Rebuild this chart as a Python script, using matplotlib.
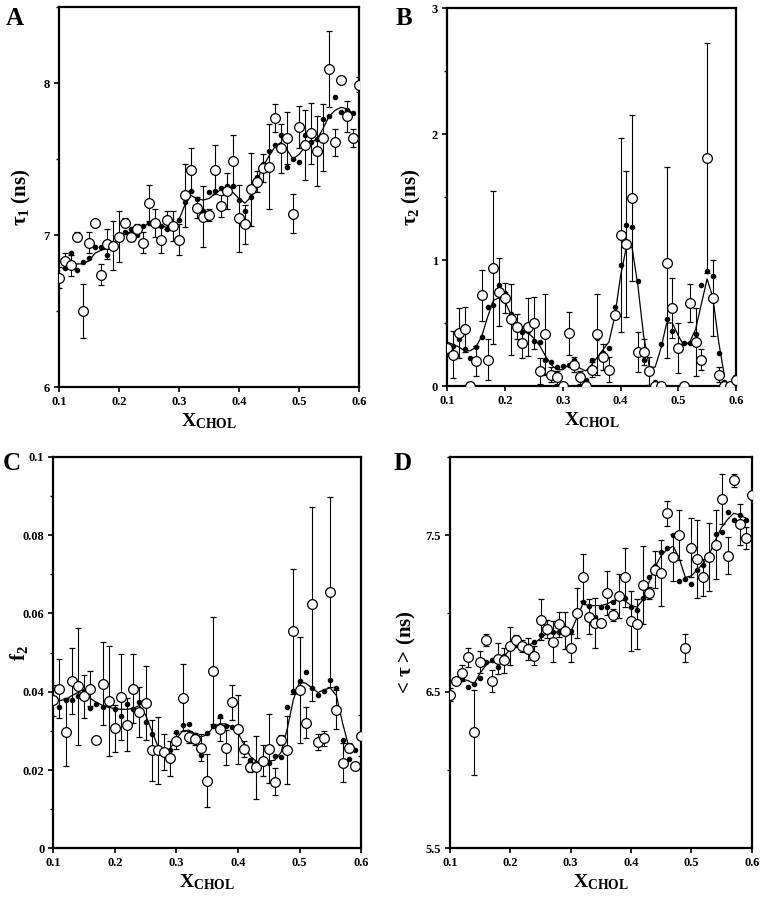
import numpy as np
import matplotlib
matplotlib.use('Agg')
import matplotlib.pyplot as plt
from matplotlib.ticker import MultipleLocator

plt.rcParams['font.family'] = 'Liberation Serif'
plt.rcParams['font.weight'] = 'bold'
plt.rcParams['mathtext.fontset'] = 'custom'
plt.rcParams['mathtext.rm'] = 'Liberation Serif:bold'
plt.rcParams['mathtext.bf'] = 'Liberation Serif:bold'
plt.rcParams['mathtext.it'] = 'Liberation Serif:bold'

# x_chol from 0.10 to 0.60
x_chol = [round(0.10 + 0.01 * i, 2) for i in range(51)]
nan = float('nan')

# panel A: tau1 (ns)
tau1_exp = [6.72, 6.83, 6.80, 6.99, 6.50, 6.95, 7.08, 6.74, 6.94, 6.93,
            6.99, 7.08, 6.99, 7.04, 6.95, 7.21, 7.08, 6.97, 7.10, 7.06,
            6.97, 7.26, 7.43, 7.18, 7.12, 7.13, 7.43, 7.19, 7.29, 7.49,
            7.11, 7.07, 7.30, 7.35, 7.44, 7.45, 7.77, 7.57, 7.64, 7.14,
            7.71, 7.59, 7.67, 7.55, 7.64, 8.09, 7.61, 8.02, 7.78, 7.64, 7.99]
tau1_err = [0.07, 0.05, 0.07, 0.03, 0.18, 0.07, 0.02, 0.07, 0.10, 0.16,
            0.17, 0.03, 0.03, 0.03, 0.07, 0.12, 0.09, 0.09, 0.06, 0.10,
            0.10, 0.21, 0.14, 0.07, 0.20, 0.04, 0.16, 0.07, 0.12, 0.17,
            0.22, 0.13, 0.24, 0.07, 0.09, 0.28, 0.09, 0.16, 0.17, 0.13,
            0.14, 0.23, 0.20, 0.23, 0.22, 0.25, 0.09, 0.01, 0.10, 0.06, 0.05]
tau1_sim = [nan, 6.78, 6.88, 6.77, 6.82, 6.85, 6.92, 6.92, 6.87, 6.95,
            7.00, 7.02, 7.04, 7.00, 7.06, 7.08, 7.09, 7.06, 7.04, 7.05,
            7.10, 7.22, 7.29, 7.24, 7.16, 7.28, 7.29, 7.31, 7.32, 7.32,
            7.23, 7.16, 7.25, 7.38, 7.47, 7.55, 7.59, 7.66, 7.45, 7.50,
            7.48, 7.66, 7.61, 7.63, 7.76, 7.78, 7.91, 7.81, 7.82, 7.80, nan]
tau1_fit = [nan, 6.80, 6.81, 6.81, 6.81, 6.83, 6.88, 6.90, 6.91, 6.93,
            6.97, 7.01, 7.02, 7.03, 7.05, 7.08, 7.08, 7.06, 7.05, 7.05,
            7.10, 7.20, 7.26, 7.24, 7.23, 7.24, 7.27, 7.30, 7.30, 7.28,
            7.24, 7.21, 7.25, 7.36, 7.45, 7.52, 7.58, 7.61, 7.56, 7.50,
            7.53, 7.58, 7.61, 7.63, 7.70, 7.78, 7.82, 7.84, 7.83, 7.80, nan]

# panel B: tau2 (ns)
tau2_exp = [0.30, 0.25, 0.42, 0.45, 0.00, 0.20, 0.72, 0.21, 0.94, 0.75,
            0.70, 0.53, 0.47, 0.34, 0.47, 0.50, 0.12, 0.41, 0.09, 0.07,
            0.00, 0.42, 0.17, 0.07, 0.00, 0.13, 0.41, 0.23, 0.13, 0.56,
            1.20, 1.13, 1.49, 0.27, 0.27, 0.12, 0.00, 0.00, 0.98, 0.62,
            0.30, 0.00, 0.66, 0.35, 0.21, 1.81, 0.70, 0.09, 0.00, 0.00, 0.05]
tau2_err = [0.00, 0.19, 0.20, 0.18, 0.00, 0.12, 0.20, 0.16, 0.61, 0.27,
            0.12, 0.28, 0.10, 0.12, 0.23, 0.21, 0.10, 0.32, 0.06, 0.05,
            0.00, 0.17, 0.06, 0.05, 0.00, 0.06, 0.32, 0.10, 0.10, 0.02,
            0.77, 0.58, 0.66, 0.16, 0.10, 0.11, 0.00, 0.00, 0.76, 0.24,
            0.20, 0.00, 0.15, 0.27, 0.08, 0.91, 0.30, 0.06, 0.00, 0.00, 0.04]
tau2_sim = [nan, 0.32, 0.37, 0.29, 0.22, 0.31, 0.39, 0.63, 0.64, 0.80,
            0.74, 0.57, 0.47, 0.43, 0.44, 0.36, 0.35, 0.21, 0.19, 0.15,
            0.16, 0.17, 0.21, 0.09, 0.05, 0.21, 0.38, 0.26, 0.30, 0.63,
            0.96, 1.28, 1.26, 0.83, 0.21, 0.12, 0.03, 0.33, 0.53, 0.44,
            0.31, 0.34, 0.34, 0.41, 0.80, 0.91, 0.87, 0.26, 0.03, 0.00, 0.00]
tau2_fit = [0.35, 0.33, 0.31, 0.28, 0.28, 0.31, 0.40, 0.55, 0.68, 0.70,
            0.67, 0.57, 0.48, 0.44, 0.42, 0.38, 0.32, 0.24, 0.17, 0.13,
            0.13, 0.17, 0.19, 0.14, 0.12, 0.17, 0.23, 0.29, 0.35, 0.55,
            0.87, 1.10, 1.10, 0.80, 0.40, 0.15, 0.15, 0.30, 0.50, 0.50,
            0.40, 0.32, 0.35, 0.45, 0.65, 0.85, 0.70, 0.35, 0.08, nan, nan]

# panel C: f2
f2_exp = [0.0378, 0.0408, 0.0297, 0.0427, 0.0414, 0.0388, 0.0408, 0.0277, 0.0421, 0.0376,
          0.0307, 0.0386, 0.0316, 0.0408, 0.0348, 0.0371, 0.0250, 0.0250, 0.0246, 0.0230,
          0.0274, 0.0385, 0.0285, 0.0280, 0.0257, 0.0173, 0.0454, 0.0304, 0.0257, 0.0373,
          0.0304, 0.0253, 0.0208, 0.0207, 0.0224, 0.0254, 0.0170, 0.0277, 0.0251, 0.0554,
          0.0405, 0.0321, 0.0625, 0.0271, 0.0281, 0.0655, 0.0354, 0.0219, 0.0257, 0.0210, 0.0288]
f2_err = [0.0040, 0.0075, 0.0087, 0.0085, 0.0150, 0.0055, 0.0045, 0.0007, 0.0105, 0.0140,
          0.0060, 0.0110, 0.0067, 0.0088, 0.0063, 0.0095, 0.0078, 0.0085, 0.0045, 0.0045,
          0.0020, 0.0085, 0.0015, 0.0015, 0.0035, 0.0067, 0.0137, 0.0030, 0.0045, 0.0045,
          0.0088, 0.0020, 0.0013, 0.0080, 0.0040, 0.0088, 0.0035, 0.0013, 0.0087, 0.0160,
          0.0135, 0.0040, 0.0248, 0.0020, 0.0020, 0.0243, 0.0050, 0.0050, 0.0012, 0.0005, 0.0052]
f2_sim = [nan, 0.0362, 0.0378, 0.0379, 0.0390, 0.0403, 0.0359, 0.0369, 0.0361, 0.0368,
          0.0356, 0.0338, 0.0369, 0.0357, 0.0375, 0.0322, 0.0291, 0.0251, 0.0246, 0.0250,
          0.0296, 0.0315, 0.0317, 0.0290, 0.0238, 0.0294, 0.0313, 0.0338, 0.0313, 0.0311,
          0.0307, 0.0253, 0.0226, 0.0217, 0.0226, 0.0217, 0.0236, 0.0234, 0.0361, 0.0403,
          0.0427, 0.0450, 0.0409, 0.0392, 0.0403, 0.0431, 0.0409, 0.0277, 0.0228, 0.0251, nan]
f2_fit = [nan, 0.0378, 0.0380, 0.0390, 0.0398, 0.0395, 0.0383, 0.0373, 0.0365, 0.0360,
          0.0357, 0.0355, 0.0355, 0.0358, 0.0365, 0.0340, 0.0300, 0.0260, 0.0247, 0.0255,
          0.0280, 0.0300, 0.0302, 0.0293, 0.0285, 0.0290, 0.0310, 0.0318, 0.0318, 0.0310,
          0.0295, 0.0265, 0.0235, 0.0222, 0.0220, 0.0223, 0.0225, 0.0245, 0.0305, 0.0380,
          0.0425, 0.0422, 0.0410, 0.0398, 0.0405, 0.0410, 0.0390, 0.0320, 0.0260, nan, nan]

# panel D: <tau> (ns)
tavg_exp = [6.48, 6.57, 6.62, 6.72, 6.24, 6.69, 6.83, 6.57, 6.71, 6.70,
            6.79, 6.83, 6.79, 6.77, 6.73, 6.96, 6.90, 6.82, 6.93, 6.89,
            6.78, 7.00, 7.23, 6.98, 6.94, 6.94, 7.13, 6.99, 7.11, 7.23,
            6.95, 6.93, 7.18, 7.13, 7.28, 7.26, 7.64, 7.36, 7.50, 6.78,
            7.42, 7.35, 7.23, 7.36, 7.44, 7.73, 7.37, 7.85, 7.57, 7.48, 7.76]
tavg_err = [0.04, 0.01, 0.05, 0.06, 0.27, 0.07, 0.04, 0.07, 0.10, 0.08,
            0.12, 0.03, 0.04, 0.07, 0.06, 0.13, 0.06, 0.13, 0.08, 0.12,
            0.09, 0.16, 0.15, 0.11, 0.16, 0.01, 0.14, 0.04, 0.14, 0.19,
            0.19, 0.16, 0.25, 0.04, 0.12, 0.21, 0.08, 0.15, 0.16, 0.09,
            0.19, 0.25, 0.12, 0.22, 0.22, 0.16, 0.12, 0.04, 0.13, 0.07, 0.00]
tavg_sim = [nan, 6.57, 6.58, 6.53, 6.55, 6.59, 6.69, 6.70, 6.66, 6.73,
            6.79, 6.80, 6.79, 6.79, 6.82, 6.86, 6.88, 6.88, 6.88, 6.87,
            6.89, 7.00, 7.07, 7.05, 6.98, 7.04, 7.04, 7.07, 7.10, 7.10,
            7.04, 7.02, 7.10, 7.23, 7.30, 7.39, 7.42, 7.50, 7.21, 7.22,
            7.19, 7.28, 7.31, 7.36, 7.51, 7.52, 7.65, 7.60, 7.63, 7.60, nan]
tavg_fit = [nan, 6.58, 6.58, 6.57, 6.55, 6.62, 6.67, 6.70, 6.71, 6.73,
            6.77, 6.80, 6.80, 6.80, 6.81, 6.84, 6.87, 6.88, 6.88, 6.88,
            6.88, 6.97, 7.06, 7.05, 7.05, 7.05, 7.06, 7.08, 7.09, 7.08,
            7.05, 7.04, 7.09, 7.20, 7.30, 7.37, 7.41, 7.43, 7.35, 7.23,
            7.24, 7.28, 7.32, 7.38, 7.47, 7.55, 7.60, 7.64, 7.63, 7.61, nan]

panels = [
    ('A', tau1_exp, tau1_err, tau1_sim, tau1_fit, (6, 8.5), [6, 7, 8], 0.5,
     r'$\mathbf{\tau_1}$ (ns)', [0.0773, 0.5695, 0.3932, 0.4227], (0.008, 0.992), -0.087),
    ('B', tau2_exp, tau2_err, tau2_sim, tau2_fit, (0, 3), [0, 1, 2, 3], 0.5,
     r'$\mathbf{\tau_2}$ (ns)', [0.5862, 0.5706, 0.3784, 0.4205], (0.518, 0.992), -0.084),
    ('C', f2_exp, f2_err, f2_sim, f2_fit, (0, 0.1), [0, 0.02, 0.04, 0.06, 0.08, 0.1], 0.01,
     r'$\mathbf{f_2}$', [0.0699, 0.0564, 0.4033, 0.4353], (0.004, 0.497), -0.076),
    ('D', tavg_exp, tavg_err, tavg_sim, tavg_fit, (5.5, 8.0), [5.5, 6.5, 7.5], 0.5,
     r'< $\mathbf{\tau}$ > (ns)', [0.5898, 0.0567, 0.3954, 0.435], (0.516, 0.497), -0.106),
]

fig = plt.figure(figsize=(7.63, 8.99), dpi=100)

for name, yexp, yerr, ysim, yfit, ylim, yticks, minor, ylab, pos, lpos, lab_x in panels:
    ax = fig.add_axes(pos)
    x = np.array(x_chol)
    ax.plot(x, np.array(yfit, dtype=float), color='black', lw=0.9, zorder=2)
    ax.plot(x, np.array(ysim, dtype=float), 'o', color='black', ms=3, zorder=3)
    ax.errorbar(x, yexp, yerr=yerr, fmt='o', mfc='white', mec='black', mew=0.9,
                ms=7, ecolor='black', elinewidth=0.8, capsize=2.5, capthick=0.8,
                zorder=4)
    ax.set_xlim(0.1, 0.6)
    ax.set_ylim(*ylim)
    ax.set_xticks([0.1, 0.2, 0.3, 0.4, 0.5, 0.6])
    ax.set_xticklabels(['0.1', '0.2', '0.3', '0.4', '0.5', '0.6'])
    ax.set_yticks(yticks)
    ax.set_yticklabels([('%g' % t) for t in yticks])
    ax.yaxis.set_minor_locator(MultipleLocator(minor))
    for s in ax.spines.values():
        s.set_linewidth(1.6)
    ax.tick_params(axis='both', which='major', direction='out', length=3.5, width=1.2,
                   labelsize=9, pad=3)
    ax.tick_params(axis='y', which='minor', direction='out', length=2.5, width=1.0)
    for lab in ax.get_xticklabels() + ax.get_yticklabels():
        lab.set_fontweight('bold')
    ax.set_xlabel(r'$\mathbf{X_{CHOL}}$', fontsize=14, labelpad=2)
    ax.set_ylabel(ylab, fontsize=15, fontweight='bold')
    ax.yaxis.set_label_coords(lab_x, 0.5)
    fig.text(lpos[0], lpos[1], name, fontsize=18, fontweight='bold', va='top', ha='left')

fig.savefig('out.png', dpi=100)
